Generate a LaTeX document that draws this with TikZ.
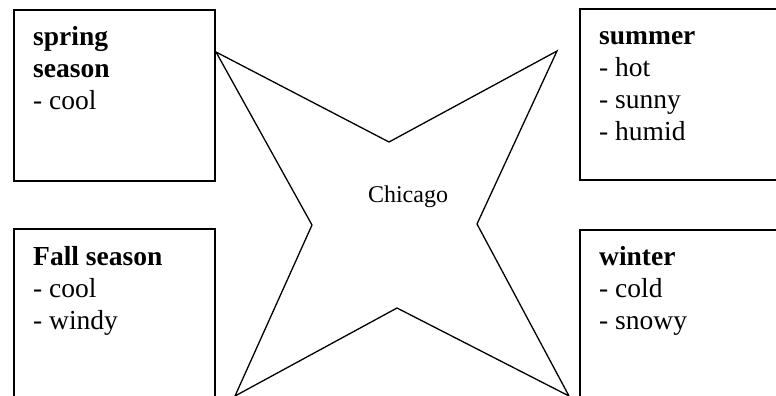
\documentclass[tikz,border=0pt]{standalone}
\usepackage{fontspec}
\setmainfont{Liberation Serif}
\usetikzlibrary{positioning, calc}
\tikzset{
    seasonbox/.style={rectangle, draw, line width=1.8pt, minimum width=201pt, minimum height=171pt, anchor=north west, inner sep=0pt},
    seasontext/.style={align=left, inner sep=0pt, font=\fontsize{27.5}{32}\selectfont},
    starline/.style={draw, line width=1.3pt, line join=miter}
}

\begin{document}
\begin{tikzpicture}[x=1pt, y=-1pt]
        \useasboundingbox (0,0) rectangle (776,396);
        % season boxes
        \node[seasonbox] (spring) at (13,9) {};
        \node[seasonbox, minimum width=220pt] (summer) at (579,8) {};
        \node[seasonbox, minimum height=200pt] (fall) at (13,228) {};
        \node[seasonbox, minimum width=220pt, minimum height=200pt] (winter) at (579,229) {};
        \node[seasontext, below right=13.6pt and 20pt of spring.north west] (springtxt) {\textbf{\strut spring}\\\textbf{season}\\- cool};
        \node[seasontext, below right=13.6pt and 20pt of summer.north west] (summertxt) {\textbf{\strut summer}\\- hot\\- sunny\\- humid};
        \node[seasontext, below right=14.6pt and 20pt of fall.north west] (falltxt) {\textbf{\strut Fall season}\\- cool\\- windy};
        \node[seasontext, below right=13.6pt and 20pt of winter.north west] (wintertxt) {\textbf{\strut winter}\\- cold\\- snowy};
        % star
        \coordinate (tltip) at (216,52);
        \coordinate (topin) at (389,142);
        \coordinate (trtip) at (557,51);
        \coordinate (rightin) at (477,224);
        \coordinate (brtip) at (569,396);
        \coordinate (botin) at (397,308);
        \coordinate (bltip) at (235,396);
        \coordinate (leftin) at (312,225);
        \draw[starline] (tltip) -- (topin) -- (trtip) -- (rightin) -- (brtip) -- (botin) -- (bltip) -- (leftin) -- cycle;
        \node[font=\fontsize{24}{28}\selectfont, inner sep=0pt] (chicago) at (408,197) {Chicago};
    \end{tikzpicture}
\end{document}
